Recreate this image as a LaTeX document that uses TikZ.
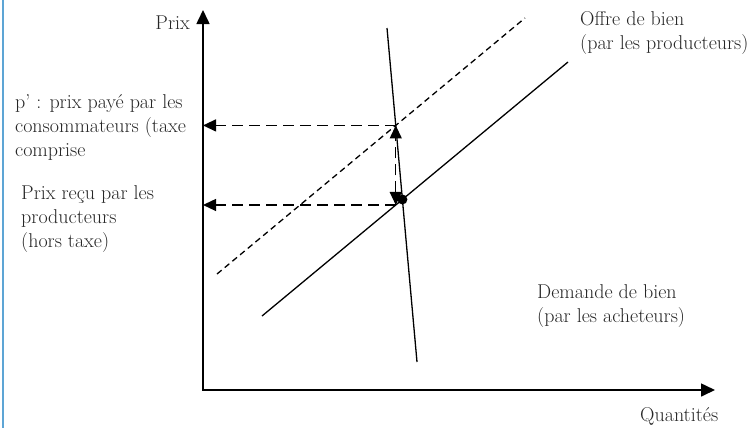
\documentclass[tikz,border=0pt]{standalone}
\usetikzlibrary{arrows.meta,intersections}
\definecolor{barblue}{HTML}{5DA5D5}
\begin{document}
\begin{tikzpicture}[x=1pt,y=-1pt,
  lbl/.style={inner sep=0pt,align=left,text=black!85,font=\fontsize{20}{24}\selectfont},
  axis/.style={line width=1.6pt,-{Triangle[length=14pt,width=13pt]}},
  curve/.style={line width=1.3pt},
  taxed/.style={line width=1.3pt,dash pattern=on 6pt off 4pt},
  guide/.style={line width=1.3pt,dash pattern=on 11pt off 6pt,-{Triangle[length=13pt,width=12pt]}},
  guide2/.style={line width=1.3pt,dash pattern=on 11pt off 6pt,{Triangle[length=13pt,width=12pt]}-{Triangle[length=13pt,width=12pt]}}]
\useasboundingbox (0,0) rectangle (754,429);
\draw[barblue,line width=2.5pt] (3,0) -- (3,428);
% axes
\coordinate (O) at (203,390);
\coordinate (Ytop) at (203,10);
\coordinate (Xend) at (715,390);
\draw[axis] (O) -- (Ytop);
\draw[axis] ([xshift=-0.8pt]O) -- (Xend);
% curves
\coordinate (S1) at (262,316);
\coordinate (S2) at (568,62);
\coordinate (T1) at (217,274);
\coordinate (T2) at (525,18);
\coordinate (D1) at (387,28);
\coordinate (D2) at (417,362);
\draw[curve,name path=supply] (S1) -- (S2);
\draw[taxed,name path=taxline] (T1) -- (T2);
\draw[curve,name path=demand] (D1) -- (D2);
\path[name intersections={of=taxline and demand,by=T}];
\path[name intersections={of=supply and demand,by=E}];
\path[name path=drop] (T) -- ++(0,150);
\path[name intersections={of=drop and supply,by=B}];
\draw[guide] (T) -- (T -| O);
\draw[guide] (B) -- (B -| O);
\draw[guide2] (B) -- (T);
\fill (E) circle (5pt);
% labels
\node[lbl,anchor=base east] (prix) at (190,29) {Prix};
\node[lbl,anchor=west] (pp) at (15,127) {p' : prix payé par les\\consommateurs (taxe\\comprise};
\node[lbl,anchor=west] (pr) at (21,219) {Prix reçu par les\\producteurs\\(hors taxe)};
\node[lbl,anchor=west] (off) at (580,33) {Offre de bien\\(par les producteurs)};
\node[lbl,anchor=west] (dem) at (537,306) {Demande de bien\\(par les acheteurs)};
\node[lbl,anchor=base west] (q) at (640,421) {Quantités};
\end{tikzpicture}
\end{document}
